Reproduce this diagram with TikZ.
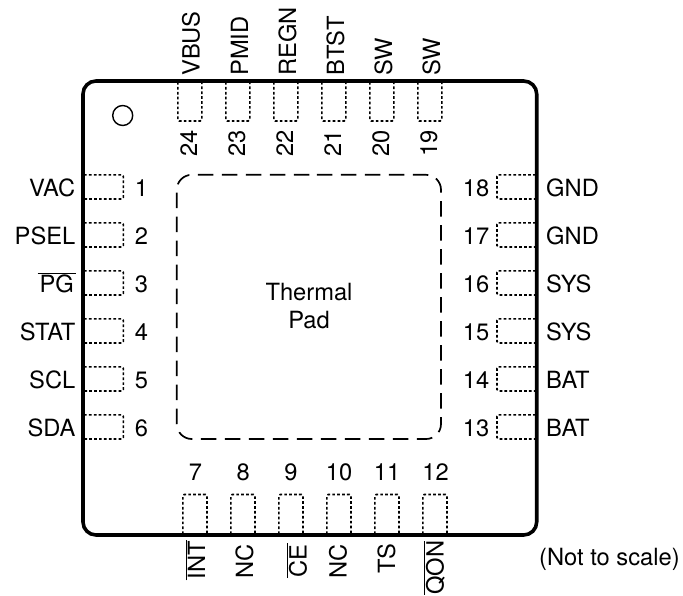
\documentclass[tikz,border=0pt]{standalone}
\usepackage{fontspec}
\setmainfont{TeX Gyre Heros}
\tikzset{
  pinfont/.style={font=\fontsize{23.7}{26}\selectfont, inner sep=0pt},
  pintext/.style={pinfont, anchor=base},
  lefttext/.style={pinfont, anchor=base east},
  righttext/.style={pinfont, anchor=base west},
  toptext/.style={pinfont, rotate=90, anchor=base west},
  bottext/.style={pinfont, rotate=90, anchor=base east},
  pinpad/.style={line width=1.6pt, dash pattern=on 2.7pt off 2.2pt, rounded corners=1.5pt},
}
\newcommand{\barname}[2]{$\overline{\mbox{\hspace{#2}#1\hspace{#2}}}$}
\begin{document}
\begin{tikzpicture}[x=1pt,y=-1pt]
\useasboundingbox (0,0) rectangle (683,595);
% package outline
\draw[line width=3.6pt, rounded corners=13pt] (83,81) rectangle (536.7,535);
\draw[line width=1.7pt, dash pattern=on 15.5pt off 8.5pt, dash phase=22.2pt, rounded corners=15pt] (300,174.8) -- (441,174.8) -- (441,439) -- (176.8,439) -- (176.8,174.8) -- cycle;
\node[circle, draw, line width=1.4pt, minimum size=20pt, inner sep=0pt] (dot) at (122.7,115.5){};
\node[align=center, font=\fontsize{23.7}{28}\selectfont] (thermal) at (309,306){Thermal\\Pad};
% left side
\draw[pinpad] (84,174.8) -- (123.3,174.8) -- (123.3,199) -- (84,199);
\node[lefttext] (lab1) at (75.5,196.5){VAC};
\node[pintext] (num1) at (141.5,196.5){1};
\draw[pinpad] (84,222.8) -- (123.3,222.8) -- (123.3,247) -- (84,247);
\node[lefttext] (lab2) at (75.5,244.5){PSEL};
\node[pintext] (num2) at (141.5,244.5){2};
\draw[pinpad] (84,270.8) -- (123.3,270.8) -- (123.3,295) -- (84,295);
\node[lefttext] (lab3) at (76,292.5){\barname{PG}{2pt}};
\node[pintext] (num3) at (141.5,292.5){3};
\draw[pinpad] (84,318.8) -- (123.3,318.8) -- (123.3,343) -- (84,343);
\node[lefttext] (lab4) at (75.5,340.5){STAT};
\node[pintext] (num4) at (141.5,340.5){4};
\draw[pinpad] (84,366.8) -- (123.3,366.8) -- (123.3,391) -- (84,391);
\node[lefttext] (lab5) at (75.5,388.5){SCL};
\node[pintext] (num5) at (141.5,388.5){5};
\draw[pinpad] (84,414.8) -- (123.3,414.8) -- (123.3,439) -- (84,439);
\node[lefttext] (lab6) at (75.5,436.5){SDA};
\node[pintext] (num6) at (141.5,436.5){6};
% bottom side
\draw[pinpad] (182.8,534) -- (182.8,494.5) -- (207,494.5) -- (207,534);
\node[pintext] (num7) at (195.5,480.5){7};
\node[bottext] (lab7) at (205,540){\barname{INT}{1pt}};
\draw[pinpad] (230.8,534) -- (230.8,494.5) -- (255,494.5) -- (255,534);
\node[pintext] (num8) at (243.3,480.5){8};
\node[bottext] (lab8) at (253,544){NC};
\draw[pinpad] (278.8,534) -- (278.8,494.5) -- (303,494.5) -- (303,534);
\node[pintext] (num9) at (291,480.5){9};
\node[bottext] (lab9) at (306.5,543){\barname{CE}{1pt}};
\draw[pinpad] (326.8,534) -- (326.8,494.5) -- (351,494.5) -- (351,534);
\node[pintext] (num10) at (339,480.5){10};
\node[bottext] (lab10) at (346.7,544){NC};
\draw[pinpad] (374.8,534) -- (374.8,494.5) -- (399,494.5) -- (399,534);
\node[pintext] (num11) at (387,480.5){11};
\node[bottext] (lab11) at (395,544){TS};
\draw[pinpad] (422.8,534) -- (422.8,494.5) -- (447,494.5) -- (447,534);
\node[pintext] (num12) at (435.5,480.5){12};
\node[bottext] (lab12) at (443.5,540.5){\barname{QON}{0pt}};
% right side
\draw[pinpad] (535.7,414.8) -- (497,414.8) -- (497,439) -- (535.7,439);
\node[righttext] (lab13) at (546,436.5){BAT};
\node[pintext] (num13) at (476,436.5){13};
\draw[pinpad] (535.7,366.8) -- (497,366.8) -- (497,391) -- (535.7,391);
\node[righttext] (lab14) at (546,388.5){BAT};
\node[pintext] (num14) at (476,388.5){14};
\draw[pinpad] (535.7,318.8) -- (497,318.8) -- (497,343) -- (535.7,343);
\node[righttext] (lab15) at (546,340.5){SYS};
\node[pintext] (num15) at (476,340.5){15};
\draw[pinpad] (535.7,270.8) -- (497,270.8) -- (497,295) -- (535.7,295);
\node[righttext] (lab16) at (546,292.5){SYS};
\node[pintext] (num16) at (476,292.5){16};
\draw[pinpad] (535.7,222.8) -- (497,222.8) -- (497,247) -- (535.7,247);
\node[righttext] (lab17) at (546,244.5){GND};
\node[pintext] (num17) at (476,244.5){17};
\draw[pinpad] (535.7,174.8) -- (497,174.8) -- (497,199) -- (535.7,199);
\node[righttext] (lab18) at (546,196.5){GND};
\node[pintext] (num18) at (476,196.5){18};
% top side
\draw[pinpad] (417.8,82) -- (417.8,121) -- (441.8,121) -- (441.8,82);
\node[toptext] (lab19) at (440,76){SW};
\node[pintext, rotate=90] (num19) at (437,143.3){19};
\draw[pinpad] (369.8,82) -- (369.8,121) -- (393.8,121) -- (393.8,82);
\node[toptext] (lab20) at (392,76){SW};
\node[pintext, rotate=90] (num20) at (389,143.3){20};
\draw[pinpad] (321.8,82) -- (321.8,121) -- (345.8,121) -- (345.8,82);
\node[toptext] (lab21) at (344,76){BTST};
\node[pintext, rotate=90] (num21) at (341,143.3){21};
\draw[pinpad] (273.8,82) -- (273.8,121) -- (297.8,121) -- (297.8,82);
\node[toptext] (lab22) at (296,76){REGN};
\node[pintext, rotate=90] (num22) at (293,143.3){22};
\draw[pinpad] (225.8,82) -- (225.8,121) -- (249.8,121) -- (249.8,82);
\node[toptext] (lab23) at (248,76){PMID};
\node[pintext, rotate=90] (num23) at (245,143.3){23};
\draw[pinpad] (177.8,82) -- (177.8,121) -- (201.8,121) -- (201.8,82);
\node[toptext] (lab24) at (199.5,76){VBUS};
\node[pintext, rotate=90] (num24) at (197,143.3){24};
% scale note
\node[righttext] (note) at (539,565){(Not to scale)};
\end{tikzpicture}
\end{document}
